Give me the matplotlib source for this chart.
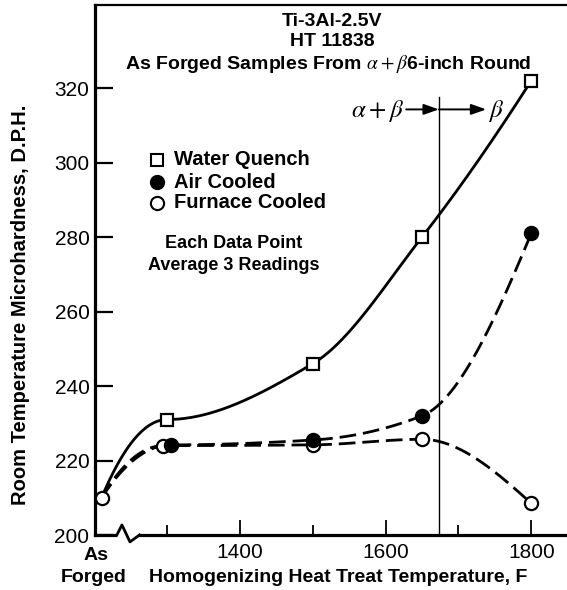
import numpy as np
import matplotlib
matplotlib.use("Agg")
import matplotlib.pyplot as plt
from matplotlib import transforms
from matplotlib.lines import Line2D

# Microhardness (D.P.H.) versus homogenizing temperature (F)
temps_wq = [1210, 1300, 1500, 1650, 1800]
hard_wq = [210, 231, 246, 280, 322]
temps_ac = [1210, 1305, 1500, 1650, 1800]
hard_ac = [210, 224.2, 225.5, 232, 281]
temps_fc = [1210, 1295, 1500, 1650, 1800]
hard_fc = [210, 224, 224.2, 225.7, 208.5]

y_ticks = [200, 220, 240, 260, 280, 300, 320]
x_major = [1400, 1600, 1800]
x_minor = [1300, 1500, 1700]
beta_transus = 1673

W, H = 567, 590
FONT = "Liberation Sans"
plt.rcParams["font.family"] = [FONT, "DejaVu Sans"]
plt.rcParams["mathtext.fontset"] = "stix"
plt.rcParams["lines.scale_dashes"] = False


def px(x, y):
    return x / W, 1 - y / H


def hermite(x0, x1, y0, y1, m0, m1, n=200):
    t = np.linspace(0, 1, n)
    h = x1 - x0
    h00 = 2 * t**3 - 3 * t**2 + 1
    h10 = t**3 - 2 * t**2 + t
    h01 = -2 * t**3 + 3 * t**2
    h11 = t**3 - t**2
    return x0 + t * h, h00 * y0 + h10 * h * m0 + h01 * y1 + h11 * h * m1


def pchip_slopes(x, y):
    h = np.diff(x)
    d = np.diff(y) / h
    m = np.zeros_like(y)
    for k in range(1, len(x) - 1):
        if d[k - 1] * d[k] <= 0:
            m[k] = 0.0
        else:
            w1 = 2 * h[k] + h[k - 1]
            w2 = h[k] + 2 * h[k - 1]
            m[k] = (w1 + w2) / (w1 / d[k - 1] + w2 / d[k])

    def end(h0, h1, d0, d1):
        s = ((2 * h0 + h1) * d0 - h0 * d1) / (h0 + h1)
        if np.sign(s) != np.sign(d0):
            s = 0.0
        elif np.sign(d0) != np.sign(d1) and abs(s) > abs(3 * d0):
            s = 3 * d0
        return s

    m[0] = end(h[0], h[1], d[0], d[1])
    m[-1] = end(h[-1], h[-2], d[-1], d[-2])
    return m


def smooth_curve(x, y):
    """Monotone spline over the heat-treat points, joined to the
    as-forged value (across the axis break) by a single Hermite piece."""
    x = np.asarray(x, float)
    y = np.asarray(y, float)
    xr, yr = x[1:], y[1:]
    m = pchip_slopes(xr, yr)
    sec = (yr[0] - y[0]) / (xr[0] - x[0])
    xs, ys = [], []
    cx, cy = hermite(x[0], xr[0], y[0], yr[0], 2 * sec - m[0], m[0])
    xs.append(cx)
    ys.append(cy)
    for k in range(len(xr) - 1):
        cx, cy = hermite(xr[k], xr[k + 1], yr[k], yr[k + 1], m[k], m[k + 1])
        xs.append(cx)
        ys.append(cy)
    return np.concatenate(xs), np.concatenate(ys)


fig = plt.figure(figsize=(W / 100, H / 100), dpi=100)
ax = fig.add_axes([95 / W, 1 - 535 / H, (W - 95) / W, 530 / H])
ax.set_xlim(1201, 1849)
ax.set_ylim(200, 342.3)

for side in ("left", "bottom"):
    ax.spines[side].set_linewidth(2.3)
ax.spines["top"].set_linewidth(1.6)
ax.spines["right"].set_visible(False)

ax.set_yticks(y_ticks)
ax.set_xticks(x_major)
ax.set_xticks(x_minor, minor=True)
ax.tick_params(axis="y", direction="in", length=13, width=1.6, pad=4,
               labelsize=15)
ax.tick_params(axis="x", which="major", direction="in", length=11, width=1.3,
               pad=6, labelsize=15)
ax.tick_params(axis="x", which="minor", direction="in", length=7, width=1.3)
ax.tick_params(right=False, top=False)

lw = 2.0
# Water quench: solid
xs, ys = smooth_curve(temps_wq, hard_wq)
ax.plot(xs, ys, color="black", lw=lw, zorder=3)
# Air cooled and furnace cooled: dashed
for tx, hy in ((temps_ac, hard_ac), (temps_fc, hard_fc)):
    xs, ys = smooth_curve(tx, hy)
    ax.plot(xs, ys, color="black", lw=lw, dashes=(12, 5), zorder=3)

ms = 9
ax.plot(temps_wq[1:], hard_wq[1:], ls="none", marker="s", ms=ms, mfc="white",
        mec="black", mew=1.6, zorder=5)
ax.plot(temps_ac[1:], hard_ac[1:], ls="none", marker="o", ms=ms + 0.5, mfc="black",
        mec="black", mew=1.6, zorder=5)
ax.plot(temps_fc, hard_fc, ls="none", marker="o", ms=ms + 0.5, mfc="white",
        mec="black", mew=1.6, zorder=4)

# Beta transus line
ax.axvline(beta_transus, ymax=(535 - 97) / 530, color="black", lw=1.0, zorder=2)

# Axis break on the temperature scale
bt = transforms.blended_transform_factory(ax.transData, ax.transAxes)
ax.plot([1231, 1262], [0, 0], transform=bt, color="white", lw=4,
        clip_on=False, zorder=6, solid_capstyle="butt")
ax.plot([1231, 1238, 1249, 1256, 1262], [0, 0.019, -0.013, -0.006, 0],
        transform=bt, color="black", lw=2.0, clip_on=False, zorder=7)

# Phase field arrows
x_left = 1201 + (406 - 95) / 0.728
x_right = 1201 + (486 - 95) / 0.728
akw = dict(arrowstyle="-|>,head_length=0.9,head_width=0.32", color="black",
           lw=1.4, shrinkA=0, shrinkB=0)
ax.annotate("", xy=(beta_transus, 0.803), xytext=(x_left, 0.803),
            xycoords=bt, textcoords=bt, arrowprops=akw)
ax.annotate("", xy=(x_right, 0.803), xytext=(beta_transus, 0.803),
            xycoords=bt, textcoords=bt, arrowprops=akw)
fig.text(*px(404, 111), r"$\alpha+\beta$", fontsize=18, ha="right", va="center")
fig.text(*px(488, 111), r"$\beta$", fontsize=18, ha="left", va="center")

# Title block
tkw = dict(fontsize=14, fontweight="bold", ha="center", va="center")
fig.text(*px(332, 22), "Ti-3Al-2.5V", **tkw)
fig.text(*px(332, 41), "HT 11838", **tkw)
fig.text(*px(328, 64), r"As Forged Samples From $\alpha+\beta$6-inch Round", **tkw)

# Legend
lkw = dict(fontsize=14.5, fontweight="bold", ha="left", va="center")
leg_items = [("s", "white", "Water Quench", 160), ("o", "black", "Air Cooled", 182),
             ("o", "white", "Furnace Cooled", 203)]
for mk, fc, label, yy in leg_items:
    fx, fy = px(157, yy)
    fig.add_artist(Line2D([fx], [fy], marker=mk, ms=8.5 if mk == "s" else 9.5,
                          mfc=fc, mec="black", mew=1.5, ls="none",
                          transform=fig.transFigure))
    fig.text(*px(174, yy), label, **lkw)

ckw = dict(fontsize=13, fontweight="bold", ha="center", va="center")
fig.text(*px(234, 243), "Each Data Point", **ckw)
fig.text(*px(234, 265), "Average 3 Readings", **ckw)

# Axis labels
fig.text(*px(96, 555), "As", fontsize=14, fontweight="bold", ha="center", va="center")
fig.text(*px(94, 578), "Forged", fontsize=14, fontweight="bold", ha="center", va="center")
fig.text(*px(338, 578), "Homogenizing Heat Treat Temperature, F", fontsize=14,
         fontweight="bold", ha="center", va="center")
fig.text(*px(21, 305), "Room Temperature Microhardness, D.P.H.", fontsize=14.5,
         fontweight="bold", ha="center", va="center", rotation=90)

fig.savefig("out.png", dpi=100)
